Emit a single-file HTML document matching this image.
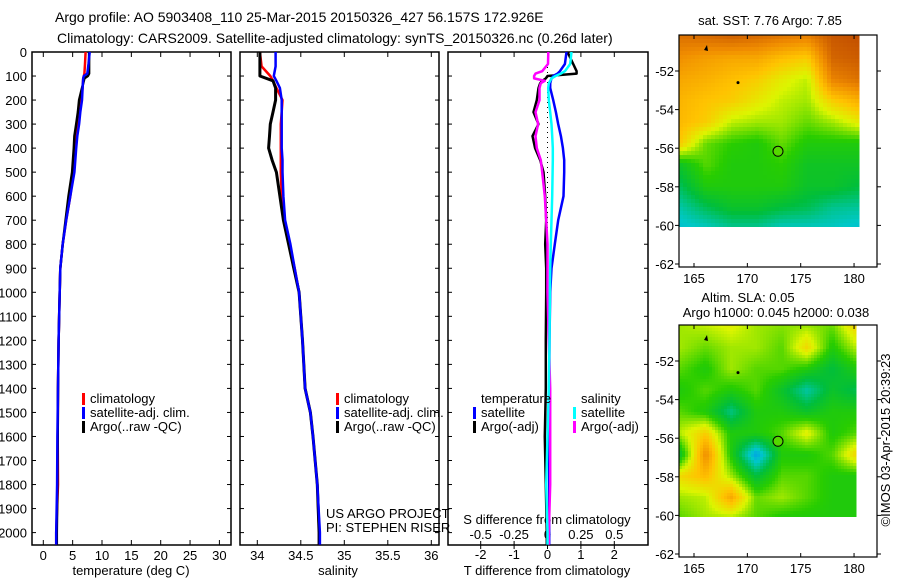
<!DOCTYPE html>
<html><head><meta charset="utf-8"><style>
body{margin:0;background:#fff}
svg{display:block;font-family:"Liberation Sans",sans-serif;font-size:13px}
</style></head><body>
<svg id="c" width="900" height="580" viewBox="0 0 900 580">
<text x="55" y="22" style="font-size:14px">Argo profile: AO 5903408_110 25-Mar-2015 20150326_427 56.157S 172.926E</text>
<text x="57" y="43" style="font-size:14px">Climatology: CARS2009. Satellite-adjusted climatology: synTS_20150326.nc (0.26d later)</text>
<g id="g"></g>
</svg>
<script>
// ---- data ----
const depthT=[0,50,90,100,110,150,200,250,300,350,400,500,600,700,800,900,1000,1200,1400,1600,1800,2000,2050];
const tempArgo=[7.8,7.8,7.8,7.6,7.0,6.6,6.1,5.9,5.6,5.3,5.2,4.9,4.3,3.8,3.3,2.9,2.8,2.6,2.5,2.45,2.4,2.3,2.3];
const tempClim=[7.2,7.1,7.0,6.9,6.8,6.7,6.4,6.0,5.8,5.6,5.5,5.1,4.6,3.9,3.3,2.9,2.8,2.6,2.5,2.45,2.5,2.2,2.2];
const tempSat=[7.9,7.7,7.5,6.9,6.8,6.7,6.6,6.3,6.1,5.8,5.6,5.3,4.6,3.9,3.3,2.9,2.8,2.6,2.5,2.4,2.35,2.2,2.2];
const depthS=[0,60,100,120,150,200,250,300,350,400,450,500,600,700,800,900,1000,1200,1400,1500,1600,1800,2000,2050];
const salArgo=[34.03,34.03,34.03,34.18,34.21,34.21,34.18,34.15,34.14,34.13,34.17,34.22,34.26,34.30,34.36,34.42,34.48,34.52,34.55,34.61,34.64,34.69,34.71,34.71];
const salClim=[34.03,34.05,34.15,34.18,34.22,34.29,34.28,34.27,34.27,34.27,34.27,34.27,34.28,34.31,34.37,34.43,34.48,34.52,34.55,34.61,34.64,34.69,34.71,34.71];
const salSat=[34.21,34.21,34.19,34.22,34.26,34.28,34.28,34.28,34.28,34.28,34.29,34.29,34.30,34.32,34.38,34.43,34.48,34.52,34.55,34.61,34.64,34.69,34.72,34.72];
const depthD=[0,50,80,90,100,110,120,130,150,200,250,300,350,400,450,500,600,700,800,900,1000,1200,1400,1600,1800,2000,2050];
const dTSat=[0.57,0.52,0.37,0.3,0.17,0.12,0.1,0.08,0.08,0.17,0.25,0.32,0.4,0.46,0.5,0.5,0.48,0.32,0.22,0.12,0.08,0.06,0.05,0.05,0.05,0.05,0.05];
const dTArgo=[0.6,0.77,0.87,0.87,0.0,-0.05,-0.15,-0.22,-0.27,-0.32,-0.42,-0.27,-0.45,-0.37,-0.22,-0.12,-0.07,-0.04,-0.07,-0.04,-0.04,-0.05,-0.05,-0.08,-0.05,-0.02,-0.02];
const dSArgo=[0.006,0.004,-0.04,-0.09,-0.1,-0.1,-0.02,-0.05,-0.06,-0.06,-0.09,-0.07,-0.09,-0.08,-0.05,-0.04,-0.02,-0.01,0,0,0,0.01,0.02,0.02,0.02,0.01,0.01];
const dSSat=[0.18,0.17,0.13,0.1,0.06,0.03,0.02,0.01,0.005,0.01,0.02,0.03,0.035,0.04,0.04,0.038,0.035,0.03,0.025,0.02,0.018,0.015,0.01,0.0,-0.01,0.0,0.0];
const depthTicks=[0,100,200,300,400,500,600,700,800,900,1000,1100,1200,1300,1400,1500,1600,1700,1800,1900,2000];
const tempTicks=[0,5,10,15,20,25,30];
const salTicks=[34,34.5,35,35.5,36];
const tdTicks=[-2,-1,0,1,2];
const sdTicks=[-0.5,-0.25,0,0.25,0.5];
const sdLabels=["-0.5","-0.25","0","0.25","0.5"];
const lonTicks=[165,170,175,180];
const latTicks=[-52,-54,-56,-58,-60,-62];
const sstGrid=[
[0.92,0.93,0.95,0.93,0.9,0.88,0.98,1.0],
[0.85,0.82,0.8,0.8,0.75,0.72,0.95,0.97],
[0.8,0.78,0.75,0.72,0.66,0.62,0.88,0.92],
[0.77,0.74,0.72,0.67,0.62,0.6,0.72,0.78],
[0.76,0.72,0.62,0.6,0.6,0.56,0.6,0.66],
[0.72,0.56,0.52,0.5,0.56,0.5,0.5,0.5],
[0.46,0.55,0.5,0.5,0.52,0.46,0.46,0.46],
[0.4,0.5,0.5,0.5,0.5,0.45,0.45,0.42],
[0.33,0.4,0.45,0.45,0.42,0.4,0.35,0.34],
[0.28,0.3,0.34,0.34,0.3,0.3,0.3,0.28]];
const slaGrid=[
[0.6,0.62,0.65,0.6,0.58,0.6,0.56,0.72],
[0.6,0.56,0.6,0.6,0.55,0.7,0.5,0.62],
[0.55,0.5,0.6,0.55,0.55,0.5,0.42,0.5],
[0.5,0.55,0.5,0.55,0.45,0.33,0.45,0.4],
[0.55,0.5,0.36,0.5,0.5,0.45,0.5,0.5],
[0.62,0.72,0.5,0.5,0.55,0.66,0.5,0.55],
[0.45,0.86,0.5,0.22,0.5,0.5,0.55,0.72],
[0.7,0.76,0.6,0.42,0.55,0.55,0.5,0.5],
[0.6,0.62,0.8,0.56,0.6,0.55,0.5,0.5],
[0.55,0.6,0.6,0.55,0.5,0.5,0.5,0.5]];

const NS="http://www.w3.org/2000/svg";
const G=document.getElementById('g');
function el(t,a,p){const e=document.createElementNS(NS,t);for(const k in a)e.setAttribute(k,a[k]);(p||G).appendChild(e);return e;}
function txt(x,y,s,anchor,p){const e=el('text',{x:x,y:y,'text-anchor':anchor||'start'},p);e.textContent=s;return e;}

const yTop=52, yBot=545;
const yD=d=>yTop+d*0.2403;
const xT=v=>43.3+v*5.87;
const xS=v=>257.3+(v-34)*87;
const xTD=v=>547.5+v*33.4;
const xSD=v=>547.5+v*133.6;

function box(x0,x1,name){const r=el('rect',{x:x0,y:yTop,width:x1-x0,height:yBot-yTop,fill:'none',stroke:'#000','stroke-width':1.5});

}
box(32,231,'temperature-panel');box(240,439,'salinity-panel');box(448,648,'difference-panel');

depthTicks.forEach(d=>{
 const t=txt(27,yD(d)+5,String(d),'end');
 
 
 [[32,36],[227,231],[240,244],[435,439],[448,452],[644,648]].forEach(p=>el('line',{x1:p[0],x2:p[1],y1:yD(d),y2:yD(d),stroke:'#000'}));
});
tempTicks.forEach(v=>{const x=xT(v);el('line',{x1:x,x2:x,y1:yTop,y2:yTop+5,stroke:'#000'});el('line',{x1:x,x2:x,y1:yBot-5,y2:yBot,stroke:'#000'});
 const t=txt(x,560,String(v),'middle');
 
 });
salTicks.forEach(v=>{const x=xS(v);el('line',{x1:x,x2:x,y1:yTop,y2:yTop+5,stroke:'#000'});el('line',{x1:x,x2:x,y1:yBot-5,y2:yBot,stroke:'#000'});
 const t=txt(x,560,String(v),'middle');
 
 });
tdTicks.forEach(v=>{const x=xTD(v);el('line',{x1:x,x2:x,y1:yTop,y2:yTop+5,stroke:'#000'});el('line',{x1:x,x2:x,y1:yBot,y2:yBot+4,stroke:'#000'});
 const t=txt(x,559,String(v),'middle');
 
 });
sdTicks.forEach((v,i)=>{const x=xSD(v);el('line',{x1:x,x2:x,y1:yBot-4,y2:yBot,stroke:'#000'});
 const t=txt(x,539,sdLabels[i],'middle');
 
 });
let a=txt(131,575,'temperature (deg C)','middle');
a=txt(338,575,'salinity','middle');
a=txt(547,575,'T difference from climatology','middle');
a=txt(547,524,'S difference from climatology','middle');

function line(xs,ds,fx,color,w,name,dash){
 const pts=xs.map((v,i)=>fx(v).toFixed(1)+','+yD(ds[i]).toFixed(1)).join(' ');
 const p=el('polyline',{points:pts,fill:'none',stroke:color,'stroke-width':w,'stroke-linejoin':'round'});
 if(dash)p.setAttribute('stroke-dasharray',dash);
 
 
}
const z=el('line',{x1:547.5,x2:547.5,y1:yTop,y2:yD(900),stroke:'#000','stroke-dasharray':'1,4'});



line(tempClim,depthT,xT,'#f00',2.5,'temperature-climatology-line');
line(tempArgo,depthT,xT,'#000',2.5,'temperature-argo-line');
line(tempSat,depthT,xT,'#00f',2.5,'temperature-satellite-line');
line(salClim,depthS,xS,'#f00',2.5,'salinity-climatology-line');
line(salArgo,depthS,xS,'#000',3,'salinity-argo-line');
line(salSat,depthS,xS,'#00f',2.5,'salinity-satellite-line');
line(dTArgo,depthD,xTD,'#000',2.5,'t-diff-argo-line');
line(dTSat,depthD,xTD,'#00f',2.5,'t-diff-satellite-line');
line(dSArgo,depthD,xSD,'#f0f',2.5,'s-diff-argo-line');
line(dSSat,depthD,xSD,'#0ff',2.5,'s-diff-satellite-line');

function leg(x,y,color,label,name){
 const r=el('rect',{x:x,y:y-10,width:3,height:12,fill:color});
 
 
 const t=txt(x+8,y,label);
 
 
}
leg(82,403,'#f00','climatology','legend-climatology');
leg(82,417,'#00f','satellite-adj. clim.','legend-satellite');
leg(82,431,'#000','Argo(..raw -QC)','legend-argo');
leg(336,403,'#f00','climatology','legend-climatology-sal');
leg(336,417,'#00f','satellite-adj. clim.','legend-satellite-sal');
leg(336,431,'#000','Argo(..raw -QC)','legend-argo-sal');
a=txt(481,403,'temperature');
a=txt(581,403,'salinity');
leg(473,417,'#00f','satellite','legend-t-satellite');
leg(473,431,'#000','Argo(-adj)','legend-t-argo');
leg(573,417,'#0ff','satellite','legend-s-satellite');
leg(573,431,'#f0f','Argo(-adj)','legend-s-argo');
a=txt(326,518,'US ARGO PROJECT');
a=txt(326,532,'PI: STEPHEN RISER');

const stops=[[0,[0,0,150]],[0.15,[0,130,255]],[0.3,[0,200,200]],[0.42,[0,190,60]],[0.52,[40,205,0]],[0.64,[220,245,0]],[0.74,[255,195,0]],[0.86,[240,140,0]],[1,[195,80,0]]];
function col(v){v=Math.max(0,Math.min(1,v));for(let i=1;i<stops.length;i++){if(v<=stops[i][0]){const s0=stops[i-1],s1=stops[i],t=(v-s0[0])/(s1[0]-s0[0]);return 'rgb('+s0[1].map((c,k)=>Math.round(c+(s1[1][k]-c)*t)).join(',')+')';}}return 'rgb(195,80,0)';}
function samp(g,fr,fc){const R=g.length-1,C=g[0].length-1;const r=Math.min(R,Math.max(0,fr*R)),c=Math.min(C,Math.max(0,fc*C));const r0=Math.floor(r),c0=Math.floor(c),r1=Math.min(R,r0+1),c1=Math.min(C,c0+1),tr=r-r0,tc=c-c0;
 return (g[r0][c0]*(1-tc)+g[r0][c1]*tc)*(1-tr)+(g[r1][c0]*(1-tc)+g[r1][c1]*tc)*tr;}
function map(y0,grid,name,cell){
 const x0=679,x1=877,y1=y0+232,dx1=856,dy1=y0+192;
 const lonX=l=>694+(l-165)*10.67;
 const gg=el('g',{});
 
 
 for(let y=y0;y<dy1;y+=cell)for(let x=x0;x<dx1;x+=cell){
  el('rect',{x:x,y:y,width:cell+0.5,height:Math.min(cell+0.5,dy1-y),fill:col(samp(grid,(y-y0)/(dy1-y0),(x-x0)/(dx1-x0)))},gg);
 }
 el('rect',{x:x0,y:y0,width:x1-x0,height:y1-y0,fill:'none',stroke:'#000','stroke-width':1.2});
 lonTicks.forEach(l=>{const x=lonX(l);el('line',{x1:x,x2:x,y1:y0,y2:y0+4,stroke:'#000'});el('line',{x1:x,x2:x,y1:y1-4,y2:y1,stroke:'#000'});
  const t=txt(x,y1+16,String(l),'middle');});
 latTicks.forEach(l=>{const y=y0+36+(l+52)*-19.3;el('line',{x1:x0-4,x2:x0,y1:y,y2:y,stroke:'#000'});el('line',{x1:x1,x2:x1+4,y1:y,y2:y,stroke:'#000'});
  const t=txt(x0-5,y+5,String(l),'end');});
 const c=el('circle',{cx:778,cy:y0+36+(-56.16+52)*-19.3,r:5,fill:col(0.55),stroke:'#000'});
 
 
 el('path',{d:'M704 '+(y0+15)+' l3 -5 l1 6 z',fill:'#000'});
 el('circle',{cx:738,cy:y0+36+(-52.6+52)*-19.3,r:1.5,fill:'#000'});
}
map(35,sstGrid,'sst-map',4);
map(325,slaGrid,'sla-map',3);
a=txt(770,25,'sat. SST: 7.76 Argo: 7.85','middle');
a=txt(748,302,'Altim. SLA: 0.05','middle');
a=txt(776,317,'Argo h1000: 0.045 h2000: 0.038','middle');
a=txt(0,0,'©IMOS 03-Apr-2015 20:39:23','middle');a.setAttribute('transform','translate(890,440) rotate(-90)');
</script>
</body></html>
